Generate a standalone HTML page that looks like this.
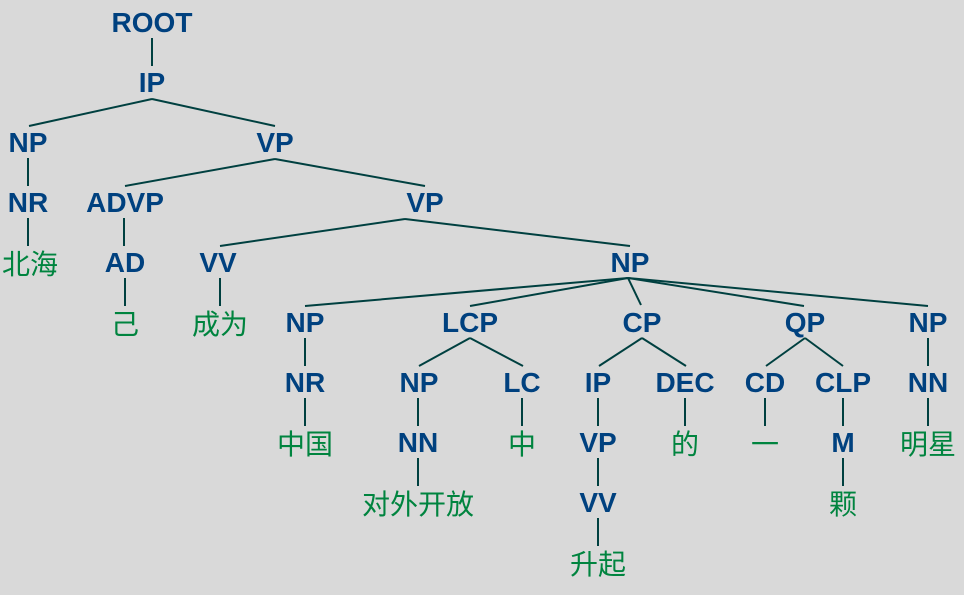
<!DOCTYPE html>
<html><head><meta charset="utf-8"><style>
html,body{margin:0;padding:0;background:#d9d9d9;}
svg{display:block}
.l{font-family:"Liberation Sans",sans-serif;font-weight:bold;font-size:28px;fill:#00417f;text-anchor:middle}
.c{font-family:"Liberation Sans","Noto Sans CJK SC",sans-serif;font-size:28px;fill:#00843f;text-anchor:middle}
line{stroke:#004040;stroke-width:2}
</style></head><body>
<svg width="964" height="595" viewBox="0 0 964 595" xmlns="http://www.w3.org/2000/svg">
<g>
<line x1="152" y1="38" x2="152" y2="66"/>
<line x1="152" y1="99" x2="29" y2="126"/>
<line x1="152" y1="99" x2="275" y2="126"/>
<line x1="28" y1="158" x2="28" y2="186"/>
<line x1="28" y1="218" x2="28" y2="246"/>
<line x1="275" y1="159" x2="125" y2="186"/>
<line x1="275" y1="159" x2="425" y2="186"/>
<line x1="124" y1="218" x2="124" y2="246"/>
<line x1="125" y1="278" x2="125" y2="306"/>
<line x1="405" y1="219" x2="220" y2="246"/>
<line x1="405" y1="219" x2="630" y2="246"/>
<line x1="220" y1="278" x2="220" y2="306"/>
<line x1="628" y1="278" x2="305" y2="306"/>
<line x1="628" y1="278" x2="470" y2="306"/>
<line x1="628" y1="278" x2="641" y2="305"/>
<line x1="628" y1="278" x2="804" y2="306"/>
<line x1="628" y1="278" x2="928" y2="306"/>
<line x1="305" y1="338" x2="305" y2="366"/>
<line x1="305" y1="398" x2="305" y2="426"/>
<line x1="470" y1="338" x2="419" y2="366"/>
<line x1="470" y1="338" x2="523" y2="366"/>
<line x1="418" y1="398" x2="418" y2="426"/>
<line x1="418" y1="458" x2="418" y2="486"/>
<line x1="522" y1="398" x2="522" y2="426"/>
<line x1="642" y1="338" x2="599" y2="366"/>
<line x1="642" y1="338" x2="686" y2="366"/>
<line x1="598" y1="398" x2="598" y2="426"/>
<line x1="598" y1="458" x2="598" y2="486"/>
<line x1="598" y1="518" x2="598" y2="546"/>
<line x1="685" y1="398" x2="685" y2="426"/>
<line x1="805" y1="338" x2="766" y2="366"/>
<line x1="805" y1="338" x2="843" y2="366"/>
<line x1="765" y1="398" x2="765" y2="426"/>
<line x1="843" y1="398" x2="843" y2="426"/>
<line x1="843" y1="458" x2="843" y2="486"/>
<line x1="928" y1="338" x2="928" y2="366"/>
<line x1="928" y1="398" x2="928" y2="426"/>
</g>
<g>
<text x="152" y="32" class="l">ROOT</text>
<text x="152" y="92" class="l">IP</text>
<text x="28" y="152" class="l">NP</text>
<text x="275" y="152" class="l">VP</text>
<text x="28" y="212" class="l">NR</text>
<text x="125" y="212" class="l">ADVP</text>
<text x="425" y="212" class="l">VP</text>
<text x="125" y="272" class="l">AD</text>
<text x="218" y="272" class="l">VV</text>
<text x="630" y="272" class="l">NP</text>
<text x="305" y="332" class="l">NP</text>
<text x="470" y="332" class="l">LCP</text>
<text x="642" y="332" class="l">CP</text>
<text x="805" y="332" class="l">QP</text>
<text x="928" y="332" class="l">NP</text>
<text x="305" y="392" class="l">NR</text>
<text x="419" y="392" class="l">NP</text>
<text x="522" y="392" class="l">LC</text>
<text x="598" y="392" class="l">IP</text>
<text x="685" y="392" class="l">DEC</text>
<text x="765" y="392" class="l">CD</text>
<text x="843" y="392" class="l">CLP</text>
<text x="928" y="392" class="l">NN</text>
<text x="418" y="452" class="l">NN</text>
<text x="598" y="452" class="l">VP</text>
<text x="843" y="452" class="l">M</text>
<text x="598" y="512" class="l">VV</text>
</g>
<g>
<text x="30" y="274" class="c">北海</text>
<text x="125" y="334" class="c">己</text>
<text x="220" y="334" class="c">成为</text>
<text x="305" y="454" class="c">中国</text>
<text x="522" y="454" class="c">中</text>
<text x="685" y="454" class="c">的</text>
<text x="765" y="454" class="c">一</text>
<text x="928" y="454" class="c">明星</text>
<text x="418" y="514" class="c">对外开放</text>
<text x="843" y="514" class="c">颗</text>
<text x="598" y="574" class="c">升起</text>
</g>
</svg>
</body></html>
